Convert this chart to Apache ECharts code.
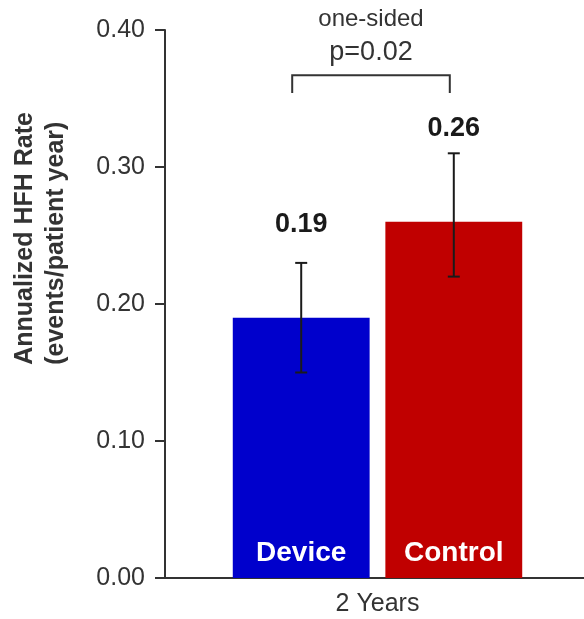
<!DOCTYPE html>
<html>
<head>
<meta charset="utf-8">
<script src="https://cdn.jsdelivr.net/npm/echarts@6/dist/echarts.min.js"></script>
<style>
	html, body { margin: 0; padding: 0; background: #fff; }
	#hfhChart { width: 584px; height: 619px; }
</style>
</head>
<body>
<div id="hfhChart"></div>
<script>
//////////// data ////////////
var categories = ['2 Years'];
var groups = ['Device', 'Control'];
var rates = [0.19, 0.26];
var errLow = [0.15, 0.22];
var errHigh = [0.23, 0.31];
var barColors = ['#0000cc', '#c00000'];
var pText = ['one-sided', 'p=0.02'];
var yTitle = 'Annualized HFH Rate\n(events/patient year)';

// bracket level (value units)
var bracketTop = 0.367;
var bracketFoot = 0.354;

var BAR_W = 0.322;   // share of the category band
var BAR_GAP = 0.115; // share of one bar
var FONT = '"Liberation Sans", Arial, sans-serif';

//////////// helpers ////////////
// center x of bar i inside category 0
function barCenter(api, i) {
	var band = api.size([1, 0])[0];
	var bw = band * BAR_W;
	var c = api.coord([0, 0])[0];
	var off = (bw + bw * BAR_GAP) / 2;
	return i === 0 ? c - off : c + off;
}

// error bars
function renderError(params, api) {
	var i = params.dataIndex;
	var x = barCenter(api, i);
	var yHi = api.coord([0, errHigh[i]])[1];
	var yLo = api.coord([0, errLow[i]])[1];
	var cap = 6;
	var st = { stroke: '#1a1a1a', lineWidth: 2 };
	return {
		type: 'group',
		children: [
			{ type: 'line', shape: { x1: x, y1: yHi, x2: x, y2: yLo }, style: st },
			{ type: 'line', shape: { x1: x - cap, y1: yHi, x2: x + cap, y2: yHi }, style: st },
			{ type: 'line', shape: { x1: x - cap, y1: yLo, x2: x + cap, y2: yLo }, style: st }
		]
	};
}

// p-value bracket
function renderBracket(params, api) {
	var x1 = barCenter(api, 0) - 9;
	var x2 = barCenter(api, 1) - 4;
	var yT = api.coord([0, bracketTop])[1];
	var yF = api.coord([0, bracketFoot])[1];
	var mid = (x1 + x2) / 2;
	var st = { stroke: '#333', lineWidth: 2, fill: null };
	return {
		type: 'group',
		children: [
			{ type: 'polyline', shape: { points: [[x1, yF], [x1, yT], [x2, yT], [x2, yF]] }, style: st },
			{ type: 'text', x: mid, y: yT - 56, style: { text: pText[0], fill: '#333', font: '24px ' + FONT, align: 'center', verticalAlign: 'middle' } },
			{ type: 'text', x: mid, y: yT - 23, style: { text: pText[1], fill: '#333', font: '27px ' + FONT, align: 'center', verticalAlign: 'middle' } }
		]
	};
}

// group names at the foot of the bars
function renderNames(params, api) {
	var i = params.dataIndex;
	return {
		type: 'text',
		x: barCenter(api, i),
		y: api.coord([0, 0])[1] - 25,
		style: { text: groups[i], fill: '#fff', font: 'bold 28px ' + FONT, align: 'center', verticalAlign: 'middle' }
	};
}

//////////// chart ////////////
function showHfhChart() {
	var chart = echarts.init(document.getElementById('hfhChart'));

	var series = [];
	for (var i = 0; i < groups.length; i++) {
		series.push({
			name: groups[i],
			type: 'bar',
			barWidth: (BAR_W * 100) + '%',
			barGap: (BAR_GAP * 100) + '%',
			itemStyle: { color: barColors[i] },
			label: {
				show: true,
				position: 'top',
				distance: 80,
				formatter: function(p) { return p.value.toFixed(2); },
				fontFamily: FONT,
				fontWeight: 'bold',
				fontSize: 27,
				color: '#1a1a1a'
			},
			data: [rates[i]]
		});
	}
	series.push({ type: 'custom', renderItem: renderNames, data: [0, 1], z: 6 });
	series.push({ type: 'custom', renderItem: renderError, data: [0, 1], z: 5 });
	series.push({ type: 'custom', renderItem: renderBracket, data: [0], z: 5 });

	var option = {
		animation: false,
		// plot runs a little past the right edge, like the original
		grid: { left: 165, width: 425, top: 30, bottom: 41, outerBoundsMode: 'none' },
		// y axis title, sits a bit above the axis middle
		graphic: [{
			type: 'text',
			left: 10,
			top: 112,
			rotation: Math.PI / 2,
			style: {
				text: yTitle,
				fill: '#333',
				font: 'bold 25px ' + FONT,
				lineHeight: 31,
				align: 'center'
			}
		}],
		xAxis: {
			type: 'category',
			data: categories,
			axisLine: { lineStyle: { color: '#333', width: 2 } },
			axisTick: { show: false },
			axisLabel: { fontFamily: FONT, fontSize: 25, color: '#333', margin: 14 }
		},
		yAxis: {
			type: 'value',
			min: 0,
			max: 0.4,
			interval: 0.1,
			splitLine: { show: false },
			axisLine: { show: true, lineStyle: { color: '#333', width: 2 } },
			axisTick: { show: true, length: 10, lineStyle: { color: '#333', width: 2 } },
			axisLabel: {
				fontFamily: FONT, fontSize: 25, color: '#333', margin: 20,
				formatter: function(v) { return v.toFixed(2); }
			}
		},
		series: series
	};

	chart.setOption(option);
}

showHfhChart();
</script>
</body>
</html>
